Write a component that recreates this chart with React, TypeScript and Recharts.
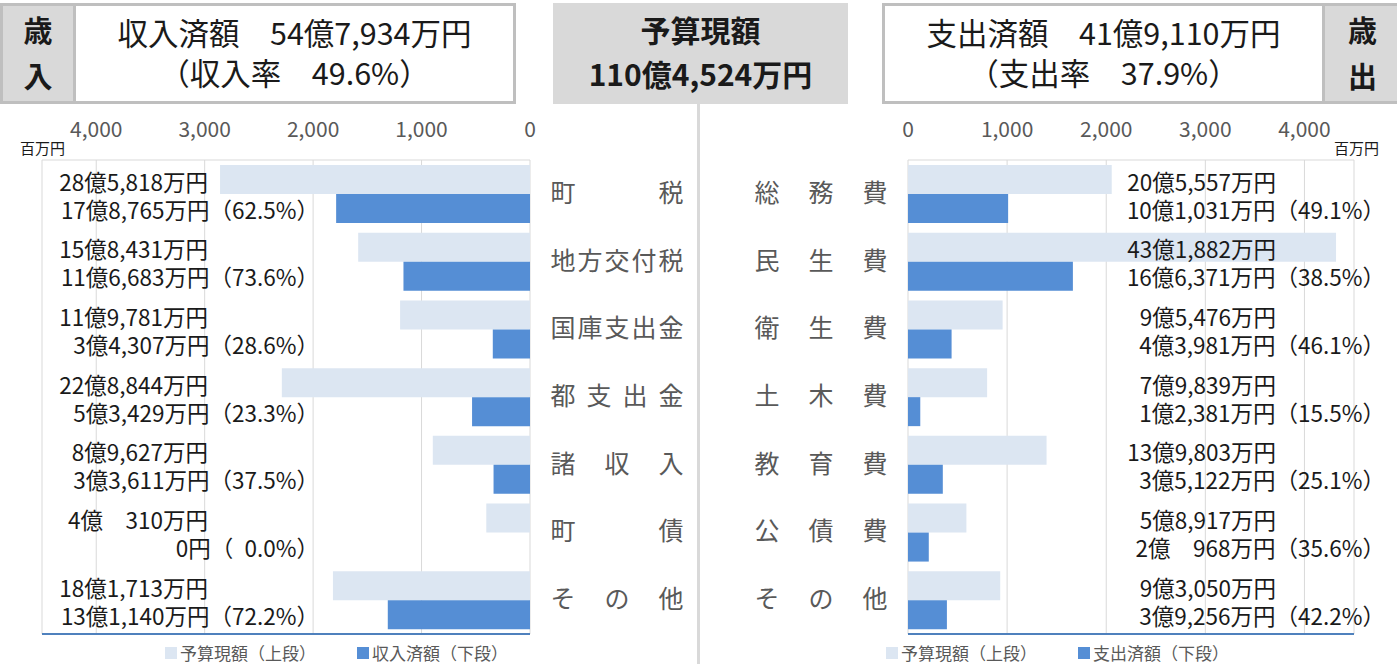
import React from 'react';
import { BarChart, Bar, XAxis, YAxis, CartesianGrid, LabelList } from 'recharts';

// 金額は万円単位（グラフは百万円で描画）
const revenueCategories = ['町税', '地方交付税', '国庫支出金', '都支出金', '諸収入', '町債', 'その他'];
const revenueBudget = [285818, 158431, 119781, 228844, 89627, 40310, 181713];
const revenueReceived = [178765, 116683, 34307, 53429, 33611, 0, 131140];
const revenueRate = [62.5, 73.6, 28.6, 23.3, 37.5, 0.0, 72.2];

const expenseCategories = ['総務費', '民生費', '衛生費', '土木費', '教育費', '公債費', 'その他'];
const expenseBudget = [205557, 431882, 95476, 79839, 139803, 58917, 93050];
const expenseSpent = [101031, 166371, 43981, 12381, 35122, 20968, 39256];
const expenseRate = [49.1, 38.5, 46.1, 15.5, 25.1, 35.6, 42.2];

const axisTicks = [0, 1000, 2000, 3000, 4000, 4500];
const axisMax = 4500;

const FONT = '"Noto Sans CJK JP", "Noto Sans", sans-serif';
const LIGHT = '#dce6f2';
const DARK = '#558ed5';
const GRID = '#d9d9d9';
const BORDER = '#bfbfbf';
const GRAY_TEXT = '#595959';
const INK = '#1a1a1a';

const toTable = (cats: string[], budget: number[], actual: number[]) =>
  cats.map((name, i) => ({ name, idx: i, budget: budget[i] / 100, actual: actual[i] / 100 }));

const revenueData = toTable(revenueCategories, revenueBudget, revenueReceived);
const expenseData = toTable(expenseCategories, expenseBudget, expenseSpent);

const yen = (man: number) => {
  if (man === 0) return '0円';
  const oku = Math.floor(man / 10000);
  const rest = man % 10000;
  const restStr = rest >= 1000 ? rest.toLocaleString('en-US') : '\u3000' + rest;
  return `${oku}億${restStr}万円`;
};

const rateText = (r: number) => `（${r < 10 ? '\u2002' : ''}${r.toFixed(1)}%）`;

const TopTick = (props: any) => {
  const { x, y, payload } = props;
  if (payload.value > 4000) return <g />;
  return (
    <text x={x} y={y} textAnchor="middle" fontSize={21} fill={GRAY_TEXT}>
      {payload.value.toLocaleString('en-US')}
    </text>
  );
};

// 文字を均等割り付け
const CategoryTick = (props: any) => {
  const { x, y, payload, side } = props;
  const chars: string[] = Array.from(payload.value);
  const first = side === 'left' ? x + 33 : x - 141;
  const span = 108;
  return (
    <g>
      {chars.map((c, i) => (
        <text
          key={i}
          x={first + (chars.length > 1 ? (span * i) / (chars.length - 1) : 0)}
          y={y - 3}
          textAnchor="middle"
          dominantBaseline="central"
          fontSize={25}
          fill={GRAY_TEXT}
        >
          {c}
        </text>
      ))}
    </g>
  );
};

const makeLabel = (budget: number[], actual: number[], rate: number[], end1: number, end2: number) =>
  (props: any) => {
    const { y, height, value } = props;
    const i = Number(value);
    const cy = y + height / 2 + 1;
    return (
      <g>
        <text x={end1} y={cy} textAnchor="end" dominantBaseline="central" fontSize={22.5} fill={INK}>
          {yen(budget[i])}
        </text>
        <text x={end2} y={cy + 28} textAnchor="end" dominantBaseline="central" fontSize={22.5} fill={INK}>
          {yen(actual[i]) + rateText(rate[i])}
        </text>
      </g>
    );
  };

const LegendItem = ({ x, color, label }: { x: number; color: string; label: string }) => (
  <div style={{ position: 'absolute', left: x, top: 640, display: 'flex', alignItems: 'center', fontSize: 17, color: GRAY_TEXT }}>
    <span style={{ width: 12, height: 12, background: color, marginRight: 3, display: 'inline-block' }} />
    <span>{label}</span>
  </div>
);

const bold: React.CSSProperties = { fontWeight: 700 };

export default function App() {
  return (
    <div style={{ position: 'absolute', left: 0, top: 0, width: 1397, height: 664, background: '#fff', fontFamily: FONT, overflow: 'hidden' }}>
      {/* 歳入ヘッダー */}
      <div style={{ position: 'absolute', left: 0, top: 3, width: 516, height: 101, border: `3px solid ${BORDER}`, boxSizing: 'border-box' }}>
        <div style={{ position: 'absolute', left: 0, top: 0, width: 70, height: 95, background: '#d9d9d9', borderRight: `3px solid ${BORDER}`, ...bold, fontSize: 29, color: INK, textAlign: 'center', lineHeight: '46px' }}>
          歳<br />入
        </div>
        <div style={{ position: 'absolute', left: 73, right: 0, top: 0, fontSize: 30.5, color: INK, textAlign: 'center', lineHeight: '40px', paddingTop: 6 }}>
          収入済額　54億7,934万円<br />（収入率　49.6%）
        </div>
      </div>

      {/* 予算現額 */}
      <div style={{ position: 'absolute', left: 553, top: 3, width: 295, height: 101, background: '#d9d9d9', ...bold, fontSize: 30, color: INK, textAlign: 'center', lineHeight: '44px', paddingTop: 4, boxSizing: 'border-box' }}>
        予算現額<br />110億4,524万円
      </div>

      {/* 歳出ヘッダー */}
      <div style={{ position: 'absolute', left: 882, top: 3, width: 515, height: 101, border: `3px solid ${BORDER}`, boxSizing: 'border-box' }}>
        <div style={{ position: 'absolute', left: 0, width: 437, top: 0, fontSize: 30.5, color: INK, textAlign: 'center', lineHeight: '40px', paddingTop: 6 }}>
          支出済額　41億9,110万円<br />（支出率　37.9%）
        </div>
        <div style={{ position: 'absolute', left: 437, top: 0, width: 75, height: 95, background: '#d9d9d9', borderLeft: `3px solid ${BORDER}`, ...bold, fontSize: 29, color: INK, textAlign: 'center', lineHeight: '46px' }}>
          歳<br />出
        </div>
      </div>

      {/* 中央の区切り線 */}
      <div style={{ position: 'absolute', left: 697, top: 104, width: 3, height: 560, background: GRID }} />

      <div style={{ position: 'absolute', left: 20, top: 137, fontSize: 15, color: INK }}>百万円</div>
      <div style={{ position: 'absolute', left: 1334, top: 137, fontSize: 15, color: INK }}>百万円</div>

      {/* 歳入グラフ */}
      <div style={{ position: 'absolute', left: 0, top: 0 }}>
        <BarChart
          width={690}
          height={664}
          data={revenueData}
          layout="vertical"
          margin={{ top: 0, right: 0, bottom: 28, left: 42 }}
          barCategoryGap={5}
          barGap={0}
        >
          <CartesianGrid
            stroke={GRID}
            horizontalCoordinatesGenerator={({ offset }: any) => [offset.top]}
          />
          <XAxis
            type="number"
            orientation="top"
            domain={[0, axisMax]}
            ticks={axisTicks}
            reversed
            height={160}
            tickSize={0}
            tickMargin={23}
            axisLine={false}
            tickLine={false}
            tick={<TopTick />}
            interval={0}
          />
          <XAxis
            xAxisId="base"
            type="number"
            orientation="bottom"
            domain={[0, axisMax]}
            height={2}
            tick={false}
            tickLine={false}
            axisLine={{ stroke: '#4f81bd', strokeWidth: 2 }}
          />
          <YAxis
            type="category"
            dataKey="name"
            orientation="right"
            width={160}
            tickSize={0}
            tickMargin={0}
            axisLine={false}
            tickLine={false}
            tick={<CategoryTick side="left" />}
            interval={0}
          />
          <Bar dataKey="budget" fill={LIGHT} isAnimationActive={false}>
            <LabelList dataKey="idx" content={makeLabel(revenueBudget, revenueReceived, revenueRate, 208, 319)} />
          </Bar>
          <Bar dataKey="actual" fill={DARK} isAnimationActive={false} />
        </BarChart>
      </div>

      {/* 歳出グラフ */}
      <div style={{ position: 'absolute', left: 748, top: 0 }}>
        <BarChart
          width={649}
          height={664}
          data={expenseData}
          layout="vertical"
          margin={{ top: 0, right: 43, bottom: 28, left: 0 }}
          barCategoryGap={5}
          barGap={0}
        >
          <CartesianGrid
            stroke={GRID}
            horizontalCoordinatesGenerator={({ offset }: any) => [offset.top]}
          />
          <XAxis
            type="number"
            orientation="top"
            domain={[0, axisMax]}
            ticks={axisTicks}
            height={160}
            tickSize={0}
            tickMargin={23}
            axisLine={false}
            tickLine={false}
            tick={<TopTick />}
            interval={0}
          />
          <XAxis
            xAxisId="base"
            type="number"
            orientation="bottom"
            domain={[0, axisMax]}
            height={2}
            tick={false}
            tickLine={false}
            axisLine={{ stroke: '#4f81bd', strokeWidth: 2 }}
          />
          <YAxis
            type="category"
            dataKey="name"
            orientation="left"
            width={160}
            tickSize={0}
            tickMargin={0}
            axisLine={false}
            tickLine={false}
            tick={<CategoryTick side="right" />}
            interval={0}
          />
          <Bar dataKey="budget" fill={LIGHT} isAnimationActive={false}>
            <LabelList dataKey="idx" content={makeLabel(expenseBudget, expenseSpent, expenseRate, 528, 637)} />
          </Bar>
          <Bar dataKey="actual" fill={DARK} isAnimationActive={false} />
        </BarChart>
      </div>

      <LegendItem x={165} color={LIGHT} label="予算現額（上段）" />
      <LegendItem x={357} color={DARK} label="収入済額（下段）" />
      <LegendItem x={886} color={LIGHT} label="予算現額（上段）" />
      <LegendItem x={1078} color={DARK} label="支出済額（下段）" />
    </div>
  );
}
